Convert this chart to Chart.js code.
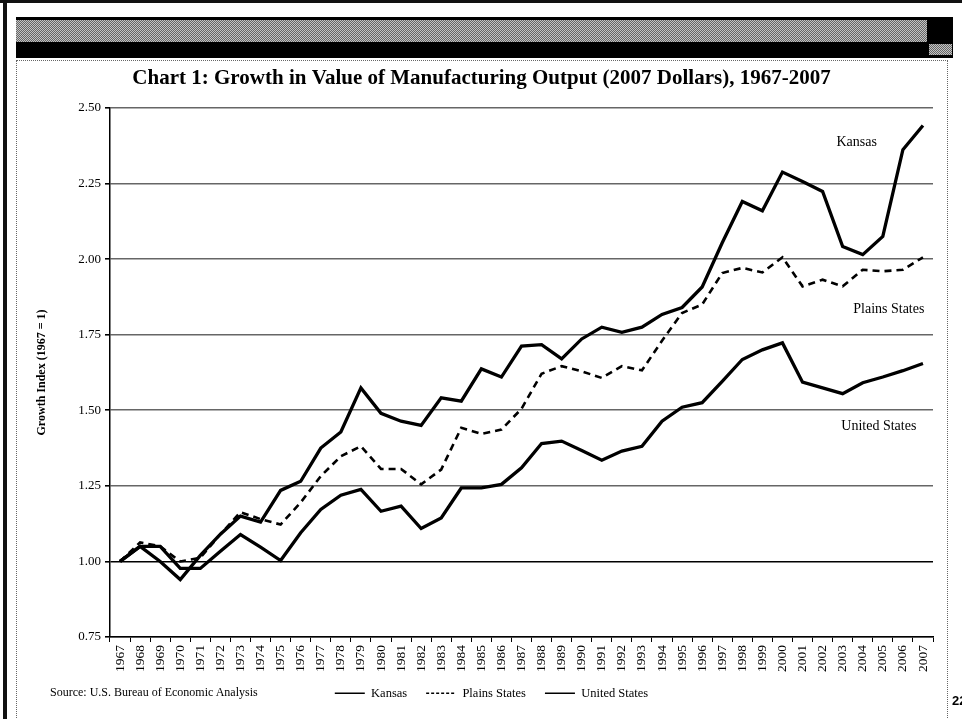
<!DOCTYPE html>
<html>
<head>
<meta charset="utf-8">
<script src="https://cdn.jsdelivr.net/npm/chart.js@4.4.1/dist/chart.umd.min.js"></script>
<style>
  html, body { margin: 0; padding: 0; background: #fff; }
  #page { position: relative; width: 962px; height: 719px; overflow: hidden; background: #fff; font-family: "Liberation Serif", "Times New Roman", serif; }
  .topline { position: absolute; left: 0; top: 0; width: 962px; height: 3px; background: #111; }
  .leftline { position: absolute; left: 3px; top: 0; width: 4px; height: 719px; background: #111; }
  .bannerBlack { position: absolute; left: 16px; top: 17px; width: 937px; height: 41px; background: #000; }
  .dither { background: repeating-conic-gradient(#666 0% 25%, #c4c4c4 0% 50%) 0 0 / 2px 2px; }
  .bannerGray { position: absolute; left: 16px; top: 20px; width: 911px; height: 22px; }
  .smallGray { position: absolute; left: 929px; top: 44px; width: 23px; height: 11px; }
  .box { position: absolute; left: 16px; top: 60px; width: 930px; height: 700px; border: 1px dotted #666; }
  #wrap { position: absolute; left: 0; top: 0; width: 962px; height: 719px; }
  .source { position: absolute; left: 50px; top: 685px; font-size: 12px; color: #000; white-space: nowrap; }
  .pg { position: absolute; left: 952px; top: 693px; font: bold 13px "Liberation Sans", Arial, sans-serif; color: #000; }
</style>
</head>
<body>
<div id="page">
  <div class="topline"></div>
  <div class="leftline"></div>
  <div class="bannerBlack"></div>
  <div class="bannerGray dither"></div>
  <div class="smallGray dither"></div>
  <div class="box"></div>
  <div id="wrap"><canvas id="c" width="962" height="719"></canvas></div>
  <div class="source">Source: U.S. Bureau of Economic Analysis</div>
  <div class="pg">22</div>
</div>
<script>
const years = ['1967','1968','1969','1970','1971','1972','1973','1974','1975','1976',
  '1977','1978','1979','1980','1981','1982','1983','1984','1985','1986',
  '1987','1988','1989','1990','1991','1992','1993','1994','1995','1996',
  '1997','1998','1999','2000','2001','2002','2003','2004','2005','2006','2007'];

const kansas = [1.00, 1.05, 1.00, 0.94, 1.02, 1.09, 1.15, 1.13, 1.235, 1.265,
  1.375, 1.428, 1.574, 1.49, 1.464, 1.45, 1.541, 1.53, 1.637, 1.61,
  1.712, 1.717, 1.67, 1.736, 1.775, 1.758, 1.775, 1.817, 1.84, 1.908,
  2.054, 2.191, 2.16, 2.288, 2.257, 2.224, 2.042, 2.015, 2.075, 2.362, 2.442];

const plainsStates = [1.00, 1.063, 1.05, 1.00, 1.012, 1.09, 1.163, 1.14, 1.122, 1.195,
  1.282, 1.348, 1.381, 1.306, 1.306, 1.255, 1.304, 1.442, 1.422, 1.436,
  1.505, 1.621, 1.646, 1.629, 1.607, 1.646, 1.632, 1.73, 1.822, 1.85,
  1.954, 1.971, 1.956, 2.006, 1.91, 1.932, 1.91, 1.965, 1.96, 1.965, 2.006];

const unitedStates = [1.00, 1.05, 1.05, 0.977, 0.977, 1.034, 1.089, 1.047, 1.003, 1.095,
  1.172, 1.219, 1.238, 1.166, 1.183, 1.109, 1.144, 1.243, 1.243, 1.255,
  1.31, 1.39, 1.398, 1.367, 1.335, 1.365, 1.381, 1.464, 1.51, 1.525,
  1.596, 1.668, 1.70, 1.723, 1.593, 1.574, 1.555, 1.591, 1.61, 1.631, 1.655];

const seriesNames = ['Kansas', 'Plains States', 'United States'];
const yTicks = [0.75, 1.00, 1.25, 1.50, 1.75, 2.00, 2.25, 2.50];

const serif = '"Liberation Serif", "Times New Roman", serif';

// In-chart series labels, positioned through the chart's own scales
const seriesLabelPlugin = {
  id: 'seriesLabels',
  afterDatasetsDraw(chart) {
    const { ctx, scales: { x, y } } = chart;
    const spots = [
      { text: seriesNames[0], xi: 36.7, yv: 2.385 },
      { text: seriesNames[1], xi: 38.3, yv: 1.835 },
      { text: seriesNames[2], xi: 37.8, yv: 1.447 }
    ];
    ctx.save();
    ctx.font = '14px ' + serif;
    ctx.fillStyle = '#000';
    ctx.textAlign = 'center';
    ctx.textBaseline = 'middle';
    spots.forEach(s => ctx.fillText(s.text, x.getPixelForValue(s.xi), y.getPixelForValue(s.yv)));
    ctx.restore();
  }
};

// Nudge the bottom legend so it sits where the original's does
const legendShift = {
  id: 'legendShift',
  afterLayout(chart) {
    const lg = chart.legend;
    if (lg) { lg.left += 10; lg.right += 10; lg.top -= 5; lg.bottom -= 5; }
  }
};

new Chart(document.getElementById('c'), {
  type: 'line',
  data: {
    labels: years,
    datasets: [
      { label: seriesNames[0], data: kansas, borderColor: '#000', backgroundColor: '#000', borderWidth: 3.3, pointRadius: 0, tension: 0, pointStyle: 'line' },
      { label: seriesNames[1], data: plainsStates, borderColor: '#000', backgroundColor: '#000', borderWidth: 2.6, borderDash: [7, 5], pointRadius: 0, tension: 0, pointStyle: 'line' },
      { label: seriesNames[2], data: unitedStates, borderColor: '#000', backgroundColor: '#000', borderWidth: 3.3, pointRadius: 0, tension: 0, pointStyle: 'line' }
    ]
  },
  options: {
    responsive: false,
    animation: false,
    events: [],
    layout: { padding: { left: 30, right: 29, top: 66, bottom: 4.5 } },
    plugins: {
      title: {
        display: true,
        text: 'Chart 1: Growth in Value of Manufacturing Output (2007 Dollars), 1967-2007',
        color: '#000',
        font: { family: serif, size: 21, weight: 'bold' },
        padding: { top: 0, bottom: 16.8 }
      },
      legend: {
        position: 'bottom',
        labels: {
          usePointStyle: true,
          pointStyleWidth: 30,
          boxHeight: 12,
          padding: 19,
          color: '#000',
          font: { family: serif, size: 12.5 },
          generateLabels(chart) {
            return chart.data.datasets.map((ds, i) => ({
              text: ds.label,
              fillStyle: '#000',
              strokeStyle: '#000',
              lineWidth: 1.5,
              lineDash: ds.borderDash ? [3, 2] : [],
              pointStyle: 'line',
              fontColor: '#000',
              datasetIndex: i,
              hidden: false
            }));
          }
        }
      },
      tooltip: { enabled: false }
    },
    scales: {
      x: {
        type: 'category',
        offset: true,
        grid: { display: true, drawOnChartArea: false, drawTicks: true, tickLength: 5, color: '#000', lineWidth: 1, offset: true },
        border: { display: true, color: '#000', width: 1.5 },
        ticks: { autoSkip: false, maxRotation: 90, minRotation: 90, color: '#000', font: { family: serif, size: 13.5 }, padding: 3 },
        afterFit(s) { s.height = 36; }
      },
      y: {
        min: 0.75,
        max: 2.5,
        afterBuildTicks(s) { s.ticks = yTicks.map(v => ({ value: v })); },
        ticks: { color: '#000', font: { family: serif, size: 13 }, padding: 4, callback: v => Number(v).toFixed(2) },
        grid: {
          color: c => (c.tick && Math.abs(c.tick.value - 1) < 1e-9) ? '#000' : '#666',
          tickColor: '#000',
          lineWidth: 1.6,
          tickLength: 5,
          drawTicks: true
        },
        border: { display: true, color: '#000', width: 1.5 },
        title: { display: true, text: 'Growth Index (1967 = 1)', color: '#000', font: { family: serif, size: 12, weight: 'bold' }, padding: { top: 5, bottom: 0 } },
        afterFit(s) { s.width = 80; }
      }
    }
  },
  plugins: [seriesLabelPlugin, legendShift]
});
</script>
</body>
</html>
